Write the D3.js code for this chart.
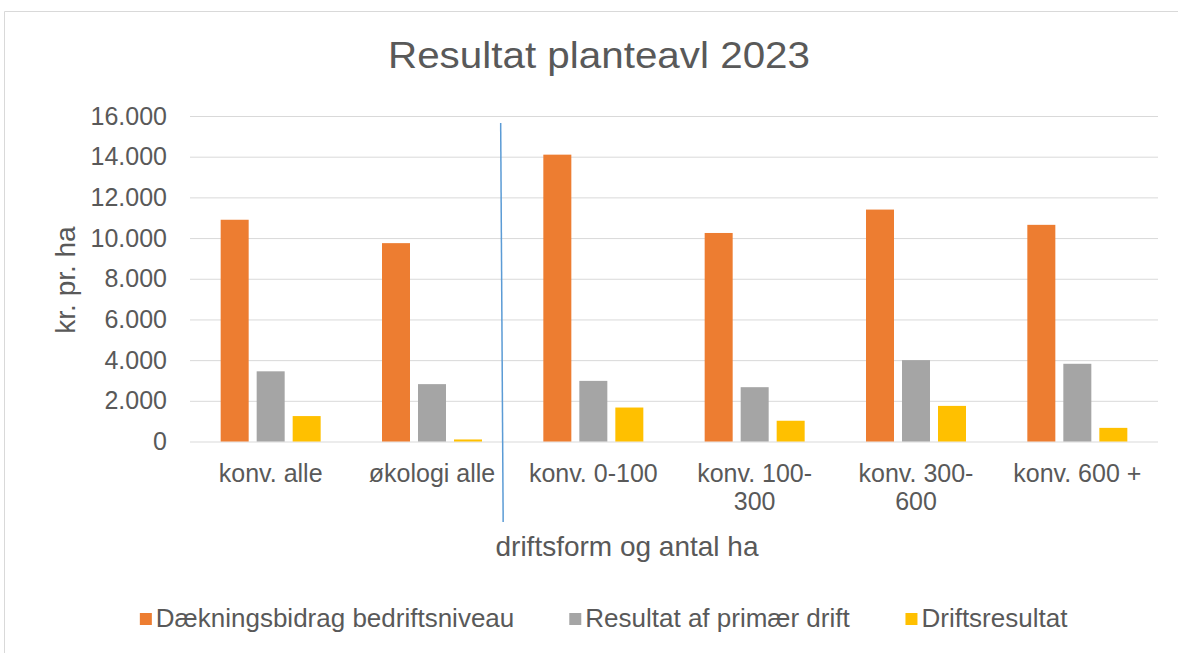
<!DOCTYPE html>
<html>
<head>
<meta charset="utf-8">
<script src="https://cdn.jsdelivr.net/npm/d3@7"></script>
<style>
  html, body { margin: 0; padding: 0; background: #fff; }
  svg { display: block; font-family: "Liberation Sans", Arial, sans-serif; }
</style>
</head>
<body>
<svg id="chart" width="1178" height="653"></svg>
<script>
const categories = ["konv. alle", "økologi alle", "konv. 0-100", "konv. 100-300", "konv. 300-600", "konv. 600 +"];
const tickLabels = [["konv. alle"], ["økologi alle"], ["konv. 0-100"], ["konv. 100-", "300"], ["konv. 300-", "600"], ["konv. 600 +"]];
const seriesNames = ["Dækningsbidrag bedriftsniveau", "Resultat af primær drift", "Driftsresultat"];
const daekningsbidrag = [10900, 9750, 14100, 10250, 11400, 10650];
const primaerDrift = [3450, 2820, 2980, 2670, 4000, 3820];
const driftsresultat = [1250, 100, 1670, 1020, 1750, 670];
const yTicks = [0, 2000, 4000, 6000, 8000, 10000, 12000, 14000, 16000];
const colors = ["#ED7D31", "#A5A5A5", "#FFC000"];

(function () {
const series = [daekningsbidrag, primaerDrift, driftsresultat];
const svg = d3.select("#chart");
const textColor = "#595959";

// chart border (top and left)
svg.append("path").attr("d", "M4.5,653 V11.5 H1178").attr("fill", "none").attr("stroke", "#D9D9D9").attr("stroke-width", 1);

const pLeft = 190, pRight = 1158, pTop = 116, pBottom = 441.5;
const y = d3.scaleLinear().domain([0, 16000]).range([pBottom, pTop]);
const x0 = d3.scaleBand().domain(categories).range([pLeft, pRight]).paddingInner(0).paddingOuter(0);
const groupW = 100;
const x1 = d3.scaleBand().domain(seriesNames).range([0, groupW]).paddingInner(8 / 36).paddingOuter(0);
const groupOffset = (x0.bandwidth() - groupW) / 2;

// gridlines
const yAxis = d3.axisLeft(y).tickValues(yTicks).tickSize(-(pRight - pLeft)).tickPadding(23)
  .tickFormat(d => d3.format(",")(d).replace(/,/g, "."));
const gy = svg.append("g").attr("transform", `translate(${pLeft},0)`).call(yAxis);
gy.select(".domain").remove();
gy.selectAll(".tick line").attr("stroke", "#D9D9D9").attr("stroke-width", 1);
gy.selectAll(".tick text").attr("fill", textColor).attr("font-size", 25).attr("font-family", "Liberation Sans, Arial, sans-serif");

// bars
seriesNames.forEach((name, si) => {
  svg.append("g").selectAll("rect").data(series[si]).join("rect")
    .attr("x", (d, i) => x0(categories[i]) + groupOffset + x1(name))
    .attr("width", x1.bandwidth())
    .attr("y", d => y(d))
    .attr("height", d => y(0) - y(d))
    .attr("fill", colors[si]);
});

// x tick labels
const xl = svg.append("g");
categories.forEach((c, i) => {
  const t = xl.append("text").attr("x", x0(c) + x0.bandwidth() / 2).attr("y", 482)
    .attr("text-anchor", "middle").attr("fill", textColor).attr("font-size", 25);
  tickLabels[i].forEach((line, li) => {
    t.append("tspan").attr("x", x0(c) + x0.bandwidth() / 2).attr("dy", li === 0 ? 0 : 28).text(line);
  });
});

// separator line (annotation)
const sepX = x0(categories[2]);
svg.append("line").attr("x1", sepX - 12).attr("y1", 123).attr("x2", sepX - 9.5).attr("y2", 522)
  .attr("stroke", "#5B9BD5").attr("stroke-width", 1.5);

// title
svg.append("text").attr("x", 599).attr("y", 68).attr("text-anchor", "middle")
  .attr("fill", textColor).attr("font-size", 36).attr("textLength", 422).attr("lengthAdjust", "spacingAndGlyphs")
  .text("Resultat planteavl 2023");

// axis titles
svg.append("text").attr("transform", "translate(75,280) rotate(-90)").attr("text-anchor", "middle")
  .attr("fill", textColor).attr("font-size", 28).text("kr. pr. ha");
svg.append("text").attr("x", 627).attr("y", 556).attr("text-anchor", "middle")
  .attr("fill", textColor).attr("font-size", 28).text("driftsform og antal ha");

// legend
const lg = svg.append("g");
const items = lg.selectAll("g").data(seriesNames).join("g");
items.append("rect").attr("width", 12).attr("height", 12).attr("y", -14).attr("fill", (d, i) => colors[i]);
items.append("text").attr("x", 16).attr("y", 0).attr("fill", textColor).attr("font-size", 26).text(d => d);
let xpos = 0;
const gap = 55;
items.each(function () {
  const w = this.getBBox().width;
  d3.select(this).attr("transform", `translate(${xpos},627)`);
  xpos += w + gap;
});
const totalW = xpos - gap;
lg.attr("transform", `translate(${604 - totalW / 2},0)`);
})();
</script>
</body>
</html>
